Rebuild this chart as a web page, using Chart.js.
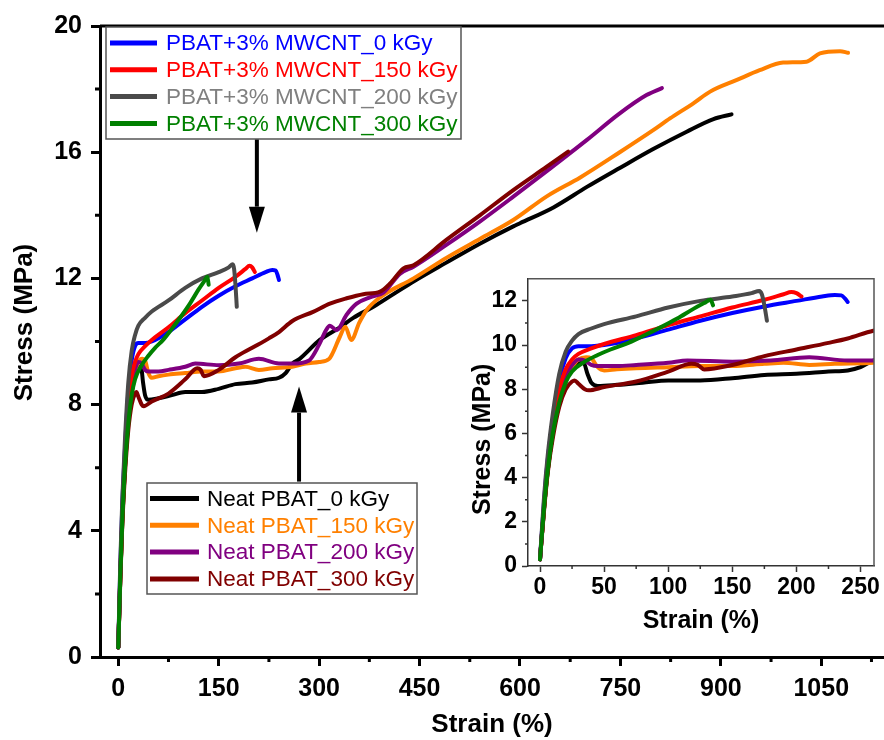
<!DOCTYPE html>
<html lang="en">
<head>
<meta charset="UTF-8">
<title>Stress-strain curves of PBAT and PBAT/MWCNT</title>
<script src="https://cdn.jsdelivr.net/npm/chart.js"></script>
<style>
  body { margin: 0; background: #fff; }
  #wrap { position: relative; width: 884px; height: 740px; }
  #mainChart { position: absolute; left: 0; top: 0; }
  #insetChart { position: absolute; left: 440px; top: 260px; }
</style>
</head>
<body>
<div id="wrap">
  <canvas id="mainChart" width="884" height="740"></canvas>
  <canvas id="insetChart" width="444" height="380"></canvas>
</div>
<script>
// strain (%) and stress (MPa) for each sample
const cnt0Strain = [0, 3, 6, 10, 15, 20, 25, 30, 40, 50, 75, 100, 125, 150, 175, 200, 220, 230, 235, 238, 240];
const cnt0Stress = [0.3, 2.8, 4.8, 6.6, 8.4, 9.4, 9.85, 9.95, 9.95, 10.0, 10.3, 10.7, 11.1, 11.45, 11.75, 12.0, 12.2, 12.27, 12.25, 12.1, 11.95];

const cnt150Strain = [0, 3, 6, 10, 15, 20, 25, 30, 40, 50, 75, 100, 125, 150, 175, 190, 196, 200, 204];
const cnt150Stress = [0.3, 2.6, 4.5, 6.3, 8.0, 8.9, 9.35, 9.6, 9.85, 10.05, 10.45, 10.9, 11.3, 11.7, 12.05, 12.3, 12.4, 12.35, 12.2];

const cnt200Strain = [0, 3, 6, 10, 15, 20, 25, 30, 40, 50, 75, 100, 125, 150, 165, 171, 173, 175, 177];
const cnt200Stress = [0.3, 3.0, 5.0, 6.9, 8.7, 9.7, 10.2, 10.5, 10.75, 10.95, 11.3, 11.7, 12.0, 12.2, 12.35, 12.45, 12.3, 11.8, 11.1];

const cnt300Strain = [0, 3, 6, 10, 15, 20, 25, 35, 45, 55, 67, 80, 94, 107, 120, 128, 133, 135];
const cnt300Stress = [0.3, 2.5, 4.3, 6.0, 7.4, 8.3, 8.8, 9.25, 9.55, 9.8, 10.05, 10.4, 10.8, 11.2, 11.65, 11.9, 12.05, 11.8];

const neat0Strain = [0, 3, 6, 10, 15, 20, 25, 30, 34, 37, 40, 45, 60, 80, 100, 125, 150, 175, 200, 225, 240, 250, 260, 271, 301, 331, 351, 381, 411, 441, 490, 540, 590, 600, 650, 700, 749, 799, 849, 889, 916];
const neat0Stress = [0.3, 2.5, 4.3, 6.0, 7.5, 8.4, 8.9, 9.15, 9.2, 8.7, 8.3, 8.15, 8.2, 8.3, 8.4, 8.4, 8.5, 8.65, 8.7, 8.8, 8.85, 9.0, 9.3, 9.45, 10.05, 10.45, 10.75, 11.1, 11.5, 11.9, 12.5, 13.1, 13.65, 13.75, 14.25, 14.9, 15.5, 16.1, 16.65, 17.05, 17.2];

const neat150Strain = [0, 3, 6, 10, 15, 20, 25, 30, 36, 40, 45, 50, 60, 75, 100, 125, 150, 175, 190, 210, 230, 260, 280, 300, 315, 331, 339, 348, 360, 371, 391, 441, 490, 540, 590, 640, 690, 749, 799, 824, 859, 884, 924, 958, 993, 1028, 1048, 1078, 1090];
const neat150Stress = [0.3, 2.5, 4.3, 6.0, 7.6, 8.5, 9.0, 9.35, 9.45, 9.4, 9.0, 8.85, 8.9, 8.95, 9.0, 9.05, 9.05, 9.15, 9.2, 9.1, 9.15, 9.2, 9.3, 9.35, 9.45, 10.15, 10.47, 10.05, 10.6, 11.0, 11.4, 12.0, 12.65, 13.25, 13.85, 14.6, 15.2, 16.0, 16.7, 17.07, 17.55, 17.92, 18.29, 18.6, 18.84, 18.87, 19.13, 19.2, 19.15];

const neat200Strain = [0, 3, 6, 10, 15, 20, 25, 30, 35, 40, 45, 60, 75, 100, 115, 150, 180, 210, 240, 260, 285, 300, 310, 316, 326, 341, 356, 376, 396, 421, 441, 490, 540, 590, 640, 700, 749, 789, 812];
const neat200Stress = [0.3, 2.5, 4.4, 6.1, 7.7, 8.6, 9.1, 9.35, 9.3, 9.1, 9.05, 9.05, 9.1, 9.2, 9.3, 9.25, 9.3, 9.45, 9.3, 9.3, 9.4, 9.9, 10.35, 10.5, 10.36, 10.85, 11.2, 11.4, 11.55, 12.15, 12.37, 13.06, 13.8, 14.59, 15.4, 16.39, 17.23, 17.81, 18.03];

const neat300Strain = [0, 3, 6, 10, 15, 20, 25, 27, 30, 35, 38, 50, 75, 100, 118, 123, 128, 150, 175, 200, 225, 240, 260, 291, 316, 341, 366, 391, 406, 426, 441, 490, 540, 590, 640, 672];
const neat300Stress = [0.3, 2.4, 4.2, 5.8, 7.2, 8.0, 8.35, 8.4, 8.25, 8.0, 7.95, 8.1, 8.35, 8.8, 9.15, 9.1, 8.9, 9.1, 9.5, 9.8, 10.1, 10.3, 10.65, 10.94, 11.2, 11.37, 11.5, 11.58, 11.84, 12.32, 12.42, 13.22, 14.0, 14.8, 15.54, 16.02];

const cntLabels = ['PBAT+3% MWCNT_0 kGy', 'PBAT+3% MWCNT_150 kGy', 'PBAT+3% MWCNT_200 kGy', 'PBAT+3% MWCNT_300 kGy'];
const neatLabels = ['Neat PBAT_0 kGy', 'Neat PBAT_150 kGy', 'Neat PBAT_200 kGy', 'Neat PBAT_300 kGy'];

// axis ticks
const mainStrainTicks = [0, 150, 300, 450, 600, 750, 900, 1050];
const mainStrainMinor = [75, 225, 375, 525, 675, 825, 975, 1125];
const mainStressTicks = [0, 4, 8, 12, 16, 20];
const mainStressMinor = [2, 6, 10, 14, 18];
const insetStrainTicks = [0, 50, 100, 150, 200, 250];
const insetStrainMinor = [25, 75, 125, 175, 225];
const insetStressTicks = [0, 2, 4, 6, 8, 10, 12];
const insetStressMinor = [1, 3, 5, 7, 9, 11];

// arrows: [strain, tail stress, tip stress]
const arrows = [[207, 16.4, 13.45], [270, 5.56, 8.57]];

const cntColors = ['#0000ff', '#ff0000', '#4a4a4a', '#008000'];
const cntTextColors = ['#0000ff', '#ff0000', '#808080', '#008000'];
const neatColors = ['#000000', '#ff8000', '#800080', '#800000'];

const FONT = 'Arial, "Liberation Sans", Helvetica, sans-serif';

function pts(xs, ys) {
  return xs.map((x, i) => ({ x: x, y: ys[i] }));
}

function buildDatasets(width) {
  const cnt = [[cnt0Strain, cnt0Stress], [cnt150Strain, cnt150Stress], [cnt200Strain, cnt200Stress], [cnt300Strain, cnt300Stress]];
  const neat = [[neat0Strain, neat0Stress], [neat150Strain, neat150Stress], [neat200Strain, neat200Stress], [neat300Strain, neat300Stress]];
  const ds = [];
  cnt.forEach((s, i) => ds.push({ label: cntLabels[i], data: pts(s[0], s[1]), borderColor: cntColors[i], order: 10 - i }));
  neat.forEach((s, i) => ds.push({ label: neatLabels[i], data: pts(s[0], s[1]), borderColor: neatColors[i], order: 20 - i }));
  ds.forEach(d => {
    d.borderWidth = width;
    d.pointRadius = 0;
    d.fill = false;
    d.cubicInterpolationMode = 'monotone';
    d.borderCapStyle = 'round';
    d.borderJoinStyle = 'round';
  });
  return ds;
}

// small unlabelled ticks between the major ones
const minorTicks = {
  id: 'minorTicks',
  afterDraw(chart, args, opts) {
    const { ctx, chartArea, scales } = chart;
    ctx.save();
    ctx.strokeStyle = opts.color;
    ctx.lineWidth = opts.width;
    ctx.beginPath();
    opts.x.forEach(v => {
      const px = scales.x.getPixelForValue(v);
      if (px > chartArea.right) return;
      ctx.moveTo(px, chartArea.bottom);
      ctx.lineTo(px, chartArea.bottom + opts.length);
    });
    opts.y.forEach(v => {
      const py = scales.y.getPixelForValue(v);
      ctx.moveTo(chartArea.left, py);
      ctx.lineTo(chartArea.left - opts.length, py);
    });
    ctx.stroke();
    ctx.restore();
  }
};

// top (and right) edges of the plot frame
const frame = {
  id: 'frame',
  afterDraw(chart, args, opts) {
    const { ctx, chartArea } = chart;
    ctx.save();
    ctx.strokeStyle = opts.color;
    ctx.lineWidth = opts.width;
    ctx.beginPath();
    ctx.moveTo(chartArea.left, chartArea.top);
    ctx.lineTo(chartArea.right, chartArea.top);
    if (opts.right) ctx.lineTo(chartArea.right, chartArea.bottom);
    ctx.stroke();
    ctx.restore();
  }
};

// vertical axis title, set a little off the plot centre
const sideTitle = {
  id: 'sideTitle',
  afterDraw(chart, args, opts) {
    const { ctx, chartArea } = chart;
    ctx.save();
    ctx.translate(opts.x, (chartArea.top + chartArea.bottom) / 2 + opts.shift);
    ctx.rotate(-Math.PI / 2);
    ctx.font = 'bold ' + opts.size + 'px ' + FONT;
    ctx.fillStyle = '#000';
    ctx.textAlign = 'center';
    ctx.textBaseline = 'middle';
    ctx.fillText(opts.text, 0, 0);
    ctx.restore();
  }
};

// two boxed legends and the pointer arrows
const annotations = {
  id: 'annotations',
  afterDraw(chart) {
    const { ctx, scales } = chart;
    ctx.save();

    const boxes = [
      { l: 106, t: 27, r: 461, b: 139, y0: 43, lineX: [110, 157], textX: 166, labels: cntLabels, lines: cntColors, texts: cntTextColors },
      { l: 147, t: 483, r: 417, b: 594, y0: 498.5, lineX: [150, 199], textX: 207, labels: neatLabels, lines: neatColors, texts: neatColors }
    ];
    boxes.forEach(bx => {
      ctx.fillStyle = '#fff';
      ctx.fillRect(bx.l, bx.t, bx.r - bx.l, bx.b - bx.t);
      ctx.strokeStyle = '#555';
      ctx.lineWidth = 1.5;
      ctx.strokeRect(bx.l, bx.t, bx.r - bx.l, bx.b - bx.t);
      ctx.font = '22.5px ' + FONT;
      ctx.textBaseline = 'middle';
      bx.labels.forEach((lab, i) => {
        const y = bx.y0 + i * 26.8;
        ctx.strokeStyle = bx.lines[i];
        ctx.lineWidth = 5;
        ctx.beginPath();
        ctx.moveTo(bx.lineX[0], y);
        ctx.lineTo(bx.lineX[1], y);
        ctx.stroke();
        ctx.fillStyle = bx.texts[i];
        ctx.fillText(lab, bx.textX, y + 1);
      });
    });

    arrows.forEach(a => {
      const x = scales.x.getPixelForValue(a[0]);
      const y1 = scales.y.getPixelForValue(a[1]);
      const y2 = scales.y.getPixelForValue(a[2]);
      const dir = y2 > y1 ? 1 : -1;
      const head = 26;
      ctx.strokeStyle = '#000';
      ctx.fillStyle = '#000';
      ctx.lineWidth = 4;
      ctx.beginPath();
      ctx.moveTo(x, y1);
      ctx.lineTo(x, y2 - dir * head);
      ctx.stroke();
      ctx.beginPath();
      ctx.moveTo(x, y2);
      ctx.lineTo(x - 8, y2 - dir * head);
      ctx.lineTo(x + 8, y2 - dir * head);
      ctx.closePath();
      ctx.fill();
    });
    ctx.restore();
  }
};

function axis(opts) {
  return {
    type: 'linear',
    min: opts.min,
    max: opts.max,
    afterBuildTicks: s => { s.ticks = opts.ticks.map(v => ({ value: v })); },
    afterFit: opts.fit,
    grid: { drawOnChartArea: false, drawTicks: true, tickLength: opts.tickLength, tickWidth: opts.lineWidth, tickColor: opts.color },
    border: { display: true, color: opts.color, width: opts.lineWidth },
    ticks: {
      color: '#000',
      padding: opts.padding,
      maxRotation: 0,
      autoSkip: false,
      callback: v => String(v),
      font: { family: FONT, size: opts.tickSize, weight: 'bold' }
    },
    title: {
      display: !!opts.title,
      text: opts.title || '',
      color: '#000',
      padding: opts.titlePadding,
      font: { family: FONT, size: opts.titleSize, weight: 'bold' }
    }
  };
}

new Chart(document.getElementById('mainChart'), {
  type: 'line',
  data: { datasets: buildDatasets(4) },
  plugins: [minorTicks, frame, sideTitle, annotations],
  options: {
    responsive: false,
    animation: false,
    devicePixelRatio: 1,
    layout: { padding: { top: 26, right: 0, bottom: 0, left: 0 } },
    plugins: {
      legend: { display: false },
      tooltip: { enabled: false },
      minorTicks: { x: mainStrainMinor, y: mainStressMinor, length: 5, width: 3, color: '#000' },
      frame: { color: '#000', width: 3, right: false },
      sideTitle: { text: 'Stress (MPa)', size: 26, x: 25, shift: -19 }
    },
    scales: {
      x: axis({ min: -27.3, max: 1143.7, ticks: mainStrainTicks, fit: s => { s.height = 83; },
        tickLength: 9, lineWidth: 3, color: '#000', padding: 8, tickSize: 25,
        title: 'Strain (%)', titleSize: 26, titlePadding: { top: 0, bottom: 0 } }),
      y: axis({ min: 0, max: 20, ticks: mainStressTicks, fit: s => { s.width = 100; },
        tickLength: 9, lineWidth: 3, color: '#000', padding: 9, tickSize: 25 })
    }
  }
});

new Chart(document.getElementById('insetChart'), {
  type: 'line',
  data: { datasets: buildDatasets(4) },
  plugins: [minorTicks, frame, sideTitle],
  options: {
    responsive: false,
    animation: false,
    devicePixelRatio: 1,
    layout: { padding: { top: 13, right: 10, bottom: 0, left: 0 } },
    plugins: {
      legend: { display: false },
      tooltip: { enabled: false },
      minorTicks: { x: insetStrainMinor, y: insetStressMinor, length: 3, width: 1.5, color: '#333' },
      frame: { color: '#555', width: 1.5, right: true },
      sideTitle: { text: 'Stress (MPa)', size: 25, x: 43, shift: 17 }
    },
    scales: {
      x: axis({ min: -9.36, max: 260.5, ticks: insetStrainTicks, fit: s => { s.height = 74; },
        tickLength: 6, lineWidth: 1.5, color: '#333', padding: 2, tickSize: 23,
        title: 'Strain (%)', titleSize: 25, titlePadding: { top: 0, bottom: 4 } }),
      y: axis({ min: 0, max: 13, ticks: insetStressTicks, fit: s => { s.width = 88; },
        tickLength: 6, lineWidth: 1.5, color: '#333', padding: 5, tickSize: 23 })
    }
  }
});
</script>
</body>
</html>
